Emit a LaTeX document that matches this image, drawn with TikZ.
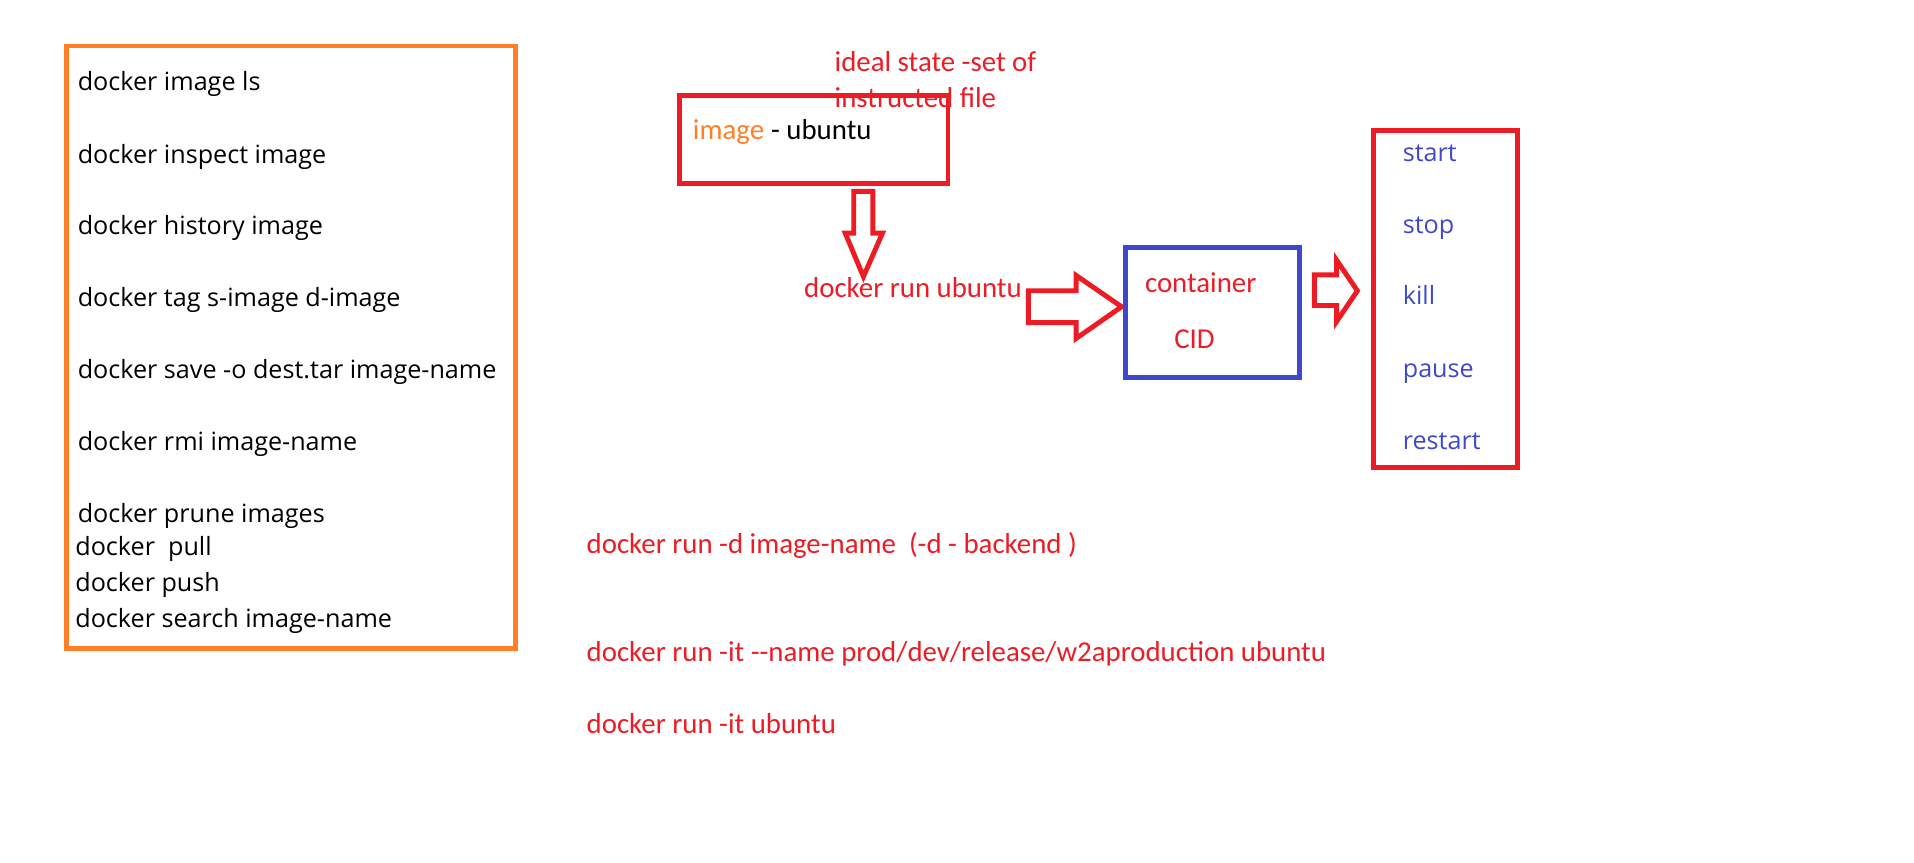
\documentclass[tikz,border=0pt]{standalone}
\usepackage{fontspec}
\newfontfamily\segfont{Open Sans}
\newfontfamily\calfont{Carlito}
\definecolor{pred}{HTML}{ED1C24}
\definecolor{porange}{HTML}{FF7F27}
\definecolor{pblue}{HTML}{3F48CC}
\tikzset{
  blk/.style={font=\segfont\fontsize{20.5}{24}\selectfont, text=black, inner sep=0pt, anchor=base west},
  bluet/.style={blk, text=pblue},
  redt/.style={font=\calfont\fontsize{23.5}{28}\selectfont, text=pred, inner sep=0pt, anchor=base west},
  frame/.style={line width=4pt, inner sep=0pt},
  blockarrow/.style={draw=pred, line width=4pt, line join=miter}
}
\begin{document}
\begin{tikzpicture}[x=0.9958pt,y=-1pt]
\useasboundingbox (0,0) rectangle (1566.6,702.6);
% left command list
\node[draw=porange, frame, minimum width=366pt, minimum height=491pt] (cmdbox) at (238,283) {};
\node[blk] (c1) at (63.5,74) {docker image ls};
\node[blk] (c2) at (63.5,133) {docker inspect image};
\node[blk] (c3) at (63.5,191) {docker history image};
\node[blk] (c4) at (63.5,250) {docker tag s-image d-image};
\node[blk] (c5) at (63.5,308.5) {docker save -o dest.tar image-name};
\node[blk] (c6) at (63.5,367) {docker rmi image-name};
\node[blk] (c7) at (63.5,426) {docker prune images};
\node[blk] (c8) at (61.5,452.5) {docker\ \ pull};
\node[blk] (c9) at (61.5,482) {docker push};
\node[blk] (c10) at (61.5,511.5) {docker search image-name};
% image box
\node[redt] (ideal1) at (683,58.5) {ideal state -set of};
\node[redt] (ideal2) at (683,88) {instructed file};
\node[draw=pred, frame, minimum width=219pt, minimum height=72pt] (imgbox) at (666,113.5) {};
\node[redt, text=porange] (imgword) at (567,113.5) {image};
\node[redt, text=black, anchor=base west] (imgrest) at (imgword.base east) {\ - ubuntu};
% down arrow
\draw[blockarrow] (698.8,156) -- (714.5,156) -- (714.5,190) -- (722.3,190) -- (706.7,225.5) -- (691.8,190) -- (698.8,190) -- cycle;
\node[redt] (run) at (658,242.5) {docker run ubuntu};
% right arrow
\draw[blockarrow] (841.7,237) -- (880.8,237) -- (880.8,224.5) -- (918,250) -- (880.8,275.8) -- (880.8,263) -- (841.7,263) -- cycle;
% container box
\node[draw=pblue, frame, minimum width=142pt, minimum height=106pt] (cbox) at (992.5,254.5) {};
\node[redt] (cont) at (937,238.5) {container};
\node[redt] (cid) at (961,284) {CID};
% small arrow
\draw[blockarrow] (1075.8,224) -- (1094,224) -- (1094,212) -- (1111,237) -- (1094,262) -- (1094,249) -- (1075.8,249) -- cycle;
% actions box
\node[draw=pred, frame, minimum width=117pt, minimum height=275pt] (abox) at (1183,243.5) {};
\node[bluet] (a1) at (1148,131.5) {start};
\node[bluet] (a2) at (1148,190.5) {stop};
\node[bluet] (a3) at (1148,248.5) {kill};
\node[bluet] (a4) at (1148,307.5) {pause};
\node[bluet] (a5) at (1148,366) {restart};
% bottom commands
\node[redt] (r1) at (480,451) {docker run -d image-name\ \ (-d - backend )};
\node[redt] (r2) at (480,539.5) {docker run -it -{}-name prod/dev/release/w2aproduction ubuntu};
\node[redt] (r3) at (480,598) {docker run -it ubuntu};
\end{tikzpicture}
\end{document}
